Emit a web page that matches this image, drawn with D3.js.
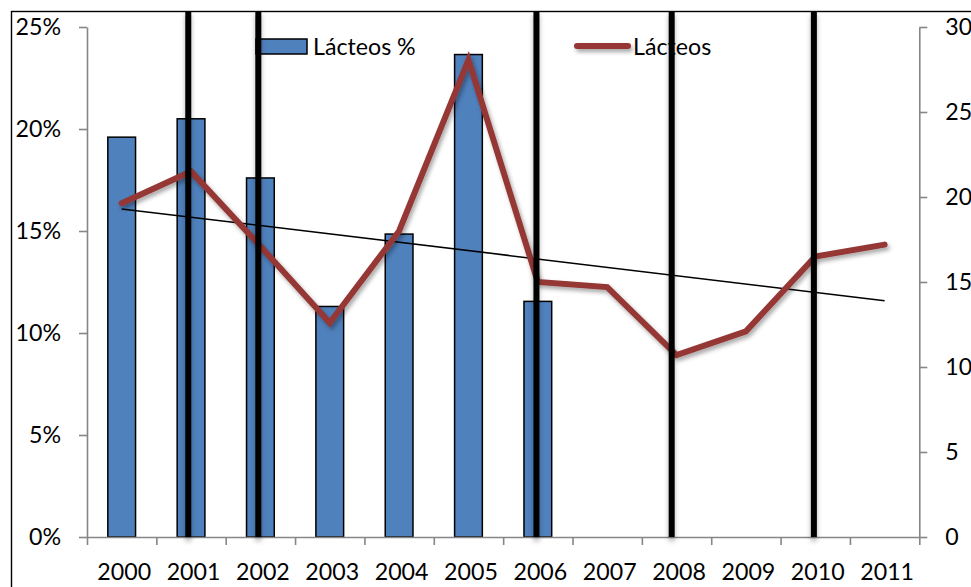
<!DOCTYPE html>
<html><head><meta charset="utf-8">
<script src="https://cdn.jsdelivr.net/npm/d3@7"></script>
<style>
html,body{margin:0;padding:0;background:#fff;}
text{font-family:Lato,"Open Sans",sans-serif;fill:#000;}
</style></head>
<body>
<svg id="chart" width="971" height="587"></svg>
<script>
const years = [2000,2001,2002,2003,2004,2005,2006,2007,2008,2009,2010,2011];
const barYears = [2000,2001,2002,2003,2004,2005,2006];
const barValues = [0.196,0.205,0.176,0.113,0.1485,0.2365,0.1155];
const lineValues = [19.63,21.5,17.1,12.6,18.0,28.06,15.0,14.7,10.7,12.1,16.5,17.2];
const trendYears = [2000,2011];
const trendValues = [19.3,13.9];
const markerYears = [2000.96,2001.97,2005.98,2007.93,2009.98];
const leftTicks = [0,0.05,0.10,0.15,0.20,0.25];
const rightTicks = [0,5,10,15,20,25,30];
const barLabel = "Lácteos %";
const lineLabel = "Lácteos";

const FS = 23.2;
const svg = d3.select("#chart");
const defs = svg.append("defs");
const sh = defs.append("filter").attr("id","shadow").attr("filterUnits","userSpaceOnUse")
  .attr("x",0).attr("y",0).attr("width",971).attr("height",587);
sh.append("feDropShadow").attr("dx",2).attr("dy",3).attr("stdDeviation",2).attr("flood-color","#000").attr("flood-opacity",0.35);
const sh2 = defs.append("filter").attr("id","vshadow").attr("filterUnits","userSpaceOnUse")
  .attr("x",0).attr("y",0).attr("width",971).attr("height",587);
sh2.append("feDropShadow").attr("dx",0).attr("dy",4).attr("stdDeviation",2.5).attr("flood-color","#000").attr("flood-opacity",0.3);

const x = d3.scaleLinear().domain([1999.5,2011.5]).range([87,919.3]);
const yL = d3.scaleLinear().domain([0,0.25]).range([537,27]);
const yR = d3.scaleLinear().domain([0,30]).range([537,27]);
const step = x(2001)-x(2000);
const bw = step*0.4;
const axisColor = "#868686";

// outer border
svg.append("rect").attr("x",11.5).attr("y",11.5).attr("width",1000).attr("height",1000)
  .attr("fill","none").attr("stroke","#000").attr("stroke-width",1.4);

// bars
svg.append("g").selectAll("rect").data(barYears).join("rect")
  .attr("x",(d)=>x(d)-bw/2).attr("width",bw)
  .attr("y",(d,i)=>yL(barValues[i])).attr("height",(d,i)=>yL(0)-yL(barValues[i]))
  .attr("fill","#4f81bd").attr("stroke","#000").attr("stroke-width",1.5);

// axes
function styleAxis(g){
  g.selectAll(".domain").attr("stroke",axisColor).attr("stroke-width",1.6);
  g.selectAll(".tick line").attr("stroke",axisColor).attr("stroke-width",1.6);
  g.selectAll("text").attr("font-size",FS).attr("font-family","Lato");
}
const gL = svg.append("g").attr("transform","translate(87,0)")
  .call(d3.axisLeft(yL).tickValues(leftTicks).tickFormat(d3.format(".0%")).tickSize(8).tickSizeOuter(0).tickPadding(18));
styleAxis(gL);
const gR = svg.append("g").attr("transform","translate(919.3,0)")
  .call(d3.axisRight(yR).tickValues(rightTicks).tickSize(8).tickSizeOuter(0).tickPadding(18));
styleAxis(gR);
const edges = d3.range(years.length+1).map(i=>1999.5+i);
const gX = svg.append("g").attr("transform","translate(0,537)")
  .call(d3.axisBottom(x).tickValues(edges).tickFormat("").tickSize(8).tickSizeOuter(0));
styleAxis(gX);
const gXL = svg.append("g").attr("transform","translate(0,537)")
  .call(d3.axisBottom(x).tickValues(years).tickFormat(d3.format("d")).tickSize(0).tickSizeOuter(0));
gXL.select(".domain").remove();
gXL.selectAll("text").attr("font-size",FS).attr("font-family","Lato").attr("y",43).attr("dy",0).attr("dx",2);

// trend line
svg.append("line")
  .attr("x1",x(trendYears[0])).attr("y1",yR(trendValues[0]))
  .attr("x2",x(trendYears[1])).attr("y2",yR(trendValues[1]))
  .attr("stroke","#000").attr("stroke-width",1.5);

// data line
const line = d3.line().x((d,i)=>x(years[i])).y(d=>yR(d));
svg.append("path").datum(lineValues).attr("d",line)
  .attr("fill","none").attr("stroke","#953735").attr("stroke-width",6)
  .attr("stroke-linejoin","miter").attr("stroke-linecap","round").attr("filter","url(#shadow)");

// legend
svg.append("rect").attr("x",256).attr("y",39).attr("width",51).attr("height",15)
  .attr("fill","#4f81bd").attr("stroke","#000").attr("stroke-width",1.5);
svg.append("text").attr("x",313).attr("y",55).attr("font-size",FS).text(barLabel);
svg.append("line").attr("x1",577).attr("x2",628).attr("y1",46).attr("y2",46)
  .attr("stroke","#953735").attr("stroke-width",6).attr("stroke-linecap","round").attr("filter","url(#shadow)");
svg.append("text").attr("x",633).attr("y",55).attr("font-size",FS).text(lineLabel);

// vertical marker lines
svg.append("g").selectAll("line").data(markerYears).join("line")
  .attr("x1",d=>x(d)).attr("x2",d=>x(d)).attr("y1",11).attr("y2",yL(0))
  .attr("stroke","#000").attr("stroke-width",6).attr("filter","url(#vshadow)");
</script>
</body></html>
